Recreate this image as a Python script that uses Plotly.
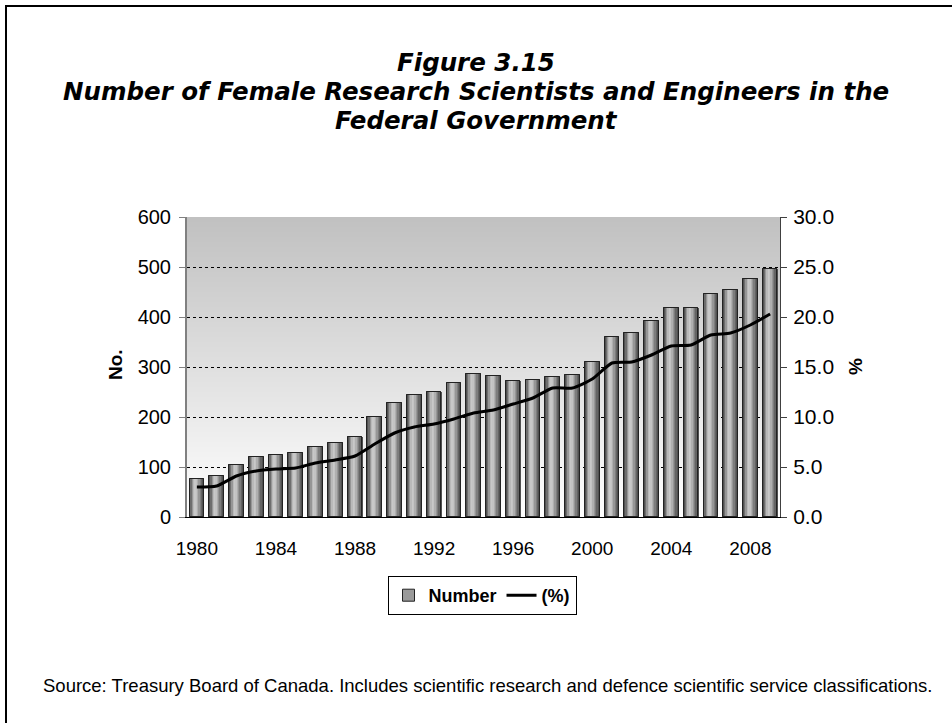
import plotly.graph_objects as go

years = list(range(1980, 2010))
number = [77, 83, 105, 120, 125, 129, 141, 149, 161, 201, 229, 245, 251, 269, 287,
          283, 273, 275, 281, 285, 311, 361, 369, 393, 419, 419, 447, 455, 476, 497]
percent = [3.0, 3.1, 4.1, 4.6, 4.8, 4.9, 5.4, 5.7, 6.1, 7.3, 8.4, 9.0, 9.3, 9.8, 10.4,
           10.7, 11.3, 11.9, 12.9, 12.9, 13.8, 15.4, 15.5, 16.2, 17.1, 17.2, 18.2, 18.4, 19.2, 20.3]
left_ticks = [0, 100, 200, 300, 400, 500, 600]
right_ticks = [0, 5, 10, 15, 20, 25, 30]
x_ticks = [1980, 1984, 1988, 1992, 1996, 2000, 2004, 2008]

W, H = 952, 723
L, R, T, B = 187, 780, 217, 517
FONT = "Liberation Sans, Arial, sans-serif"
TFONT = "DejaVu Sans, Liberation Sans, Arial, sans-serif"

fig = go.Figure()

bar_w = 0.74
# base bar (legend entry)
fig.add_trace(go.Bar(x=years, y=number, name="<b>Number</b>", width=bar_w,
                     marker=dict(color="#9a9a9a", line=dict(color="#222222", width=1)),
                     yaxis="y"))
# cylinder shading stripes
shades = [80, 110, 150, 185, 200, 195, 175, 150, 125, 100, 80]
n = len(shades)
sw = bar_w / n
for i, s in enumerate(shades):
    fig.add_trace(go.Bar(x=years, y=number, width=sw * 1.02, offset=-bar_w / 2 + i * sw,
                         marker=dict(color=f"rgb({s},{s},{s})", line=dict(width=0)),
                         showlegend=False, hoverinfo="skip", yaxis="y"))
# outline on top
fig.add_trace(go.Bar(x=years, y=number, width=bar_w,
                     marker=dict(color="rgba(0,0,0,0)", line=dict(color="#222222", width=1)),
                     showlegend=False, hoverinfo="skip", yaxis="y"))

fig.add_trace(go.Scatter(x=years, y=percent, name="<b>(%)</b>", mode="lines",
                         line=dict(color="black", width=3, shape="spline", smoothing=0.6),
                         yaxis="y2"))

# background gradient in plot area
shapes = []
N = 60
for i in range(N):
    t = (i + 0.5) / N
    c = int(round(255 - (255 - 192) * t))
    shapes.append(dict(type="rect", xref="x domain", yref="y domain",
                       x0=0, x1=1, y0=i / N, y1=(i + 1) / N,
                       fillcolor=f"rgb({c},{c},{c})", line=dict(width=0), layer="below"))

pw, ph = R - L, B - T
def px(xp):
    return (xp - L) / pw
def py(yp):
    return (B - yp) / ph

# outer frame (only top and left visible)
shapes.append(dict(type="rect", xref="paper", yref="paper",
                   x0=px(6), x1=px(1000), y0=py(770), y1=py(6),
                   line=dict(color="black", width=2), fillcolor="rgba(0,0,0,0)", layer="above"))

TS = 24.5
annotations = [
    dict(text="<b><i>Figure 3.15</i></b>", x=px(476), y=py(62), xref="paper", yref="paper",
         showarrow=False, font=dict(family=TFONT, size=TS, color="black"), xanchor="center", yanchor="middle"),
    dict(text="<b><i>Number of Female Research Scientists and Engineers in the</i></b>", x=px(476), y=py(91),
         xref="paper", yref="paper", showarrow=False, font=dict(family=TFONT, size=TS, color="black"),
         xanchor="center", yanchor="middle"),
    dict(text="<b><i>Federal Government</i></b>", x=px(476), y=py(120), xref="paper", yref="paper",
         showarrow=False, font=dict(family=TFONT, size=TS, color="black"), xanchor="center", yanchor="middle"),
    dict(text="<b>No.</b>", x=px(115), y=py(365), xref="paper", yref="paper", showarrow=False,
         textangle=-90, font=dict(family=FONT, size=19, color="black"), xanchor="center", yanchor="middle"),
    dict(text="<b>%</b>", x=px(855), y=py(367), xref="paper", yref="paper", showarrow=False,
         textangle=-90, font=dict(family=FONT, size=19, color="black"), xanchor="center", yanchor="middle"),
    dict(text="Source: Treasury Board of Canada. Includes scientific research and defence scientific service classifications.",
         x=px(487), y=py(685), xref="paper", yref="paper", showarrow=False,
         font=dict(family=FONT, size=18.5, color="black"), xanchor="center", yanchor="middle"),
]

fig.update_layout(
    width=W, height=H,
    margin=dict(l=L, r=W - R, t=T, b=H - B, pad=0, autoexpand=False),
    paper_bgcolor="white", plot_bgcolor="white",
    barmode="overlay", bargap=0,
    font=dict(family=FONT, size=19, color="black"),
    showlegend=True,
    legend=dict(orientation="h", x=px(482), xanchor="center", y=py(576), yanchor="top",
                bordercolor="black", borderwidth=1, bgcolor="white",
                font=dict(family=FONT, size=18, color="black"), itemwidth=30,
                tracegroupgap=0),
    xaxis=dict(range=[1979.5, 2009.5], tickvals=x_ticks, ticktext=[str(v) for v in x_ticks],
               showline=True, linecolor="black", linewidth=1, showgrid=False, zeroline=False,
               ticks="outside", ticklen=14, tickcolor="rgba(0,0,0,0)",
               tickfont=dict(family=FONT, size=19)),
    yaxis=dict(range=[0, 600], tickvals=left_ticks, showline=True, linecolor="#808080", linewidth=2,
               ticks="outside", ticklen=6, tickcolor="#808080", showgrid=True, gridcolor="black",
               griddash="dot", gridwidth=1, zeroline=False, ticklabelstandoff=4,
               tickfont=dict(family=FONT, size=20)),
    yaxis2=dict(range=[0, 30], tickvals=right_ticks, tickformat=".1f", overlaying="y", side="right",
                showline=True, linecolor="#404040", linewidth=1, ticks="outside", ticklen=6,
                tickcolor="#404040", showgrid=False, zeroline=False, ticklabelstandoff=2,
                tickfont=dict(family=FONT, size=21)),
    shapes=shapes,
    annotations=annotations,
)

fig.write_html("out.html", config={"displayModeBar": False},
               post_script="document.body.style.margin='0px';")
